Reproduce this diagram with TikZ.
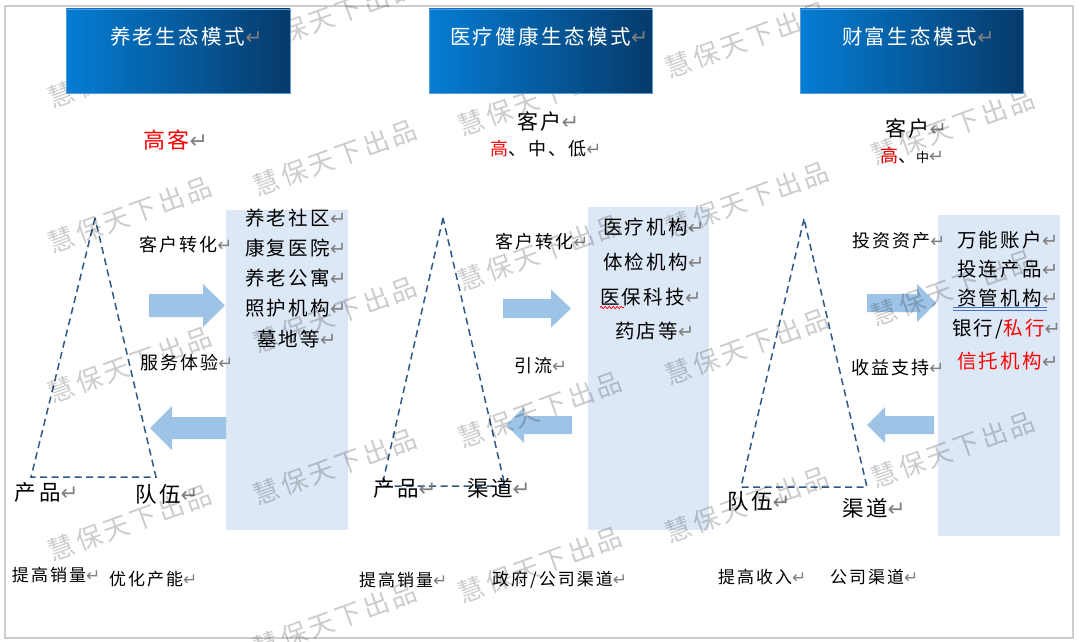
\documentclass[tikz,border=0pt]{standalone}
\usepackage{fontspec}
\setmainfont{Noto Sans CJK SC}[LetterSpace=12]
\newfontfamily\dejavu{DejaVu Sans}
\usetikzlibrary{decorations.pathmorphing}
\definecolor{hdrL}{RGB}{5,125,212}
\definecolor{hdrR}{RGB}{6,58,106}
\definecolor{hdrEdge}{RGB}{91,155,213}
\definecolor{panelc}{RGB}{221,232,246}
\definecolor{arrc}{RGB}{157,195,230}
\definecolor{tric}{RGB}{47,88,135}
\definecolor{rtgray}{RGB}{128,128,128}
\definecolor{framec}{RGB}{205,205,205}
\definecolor{redt}{RGB}{255,0,0}
\definecolor{ulblue}{RGB}{68,114,196}
\newcommand\retmark{{\dejavu\color{rtgray}↵}}
\newcommand\fsz[1]{\fontsize{#1}{#1}\selectfont}
\newcommand\barrow[6]{% tail x, head base x, tip x, centre y, body half, head half
  \fill[arrc] (#1,{#4-#5}) -- (#2,{#4-#5}) -- (#2,{#4-#6}) -- (#3,#4) -- (#2,{#4+#6}) -- (#2,{#4+#5}) -- (#1,{#4+#5}) -- cycle;}
\begin{document}
\begin{tikzpicture}[x=1pt,y=-1pt,
  every node/.style={inner sep=0pt, outer sep=0pt},
  hdr/.style={left color=hdrL, right color=hdrR, draw=hdrEdge, line width=0.6pt},
  ttl/.style={anchor=west, text=white, font=\fsz{20.5}},
  lbl/.style={anchor=west, font=\fsz{18}},
  ptx/.style={anchor=west, font=\fsz{19.5}},
  cor/.style={anchor=west, font=\fsz{21.5}},
  btm/.style={anchor=west, font=\fsz{17}},
  tridash/.style={draw=tric, line width=1.5pt, dash pattern=on 7pt off 4.5pt},
  wm/.style={rotate=20, text=black, opacity=0.2, font=\fsz{26}}
]
\useasboundingbox (0,0) rectangle (1080,642);
\fill[white] (0,0) rectangle (1080,642);
\draw[framec, line width=1.2pt] (5,6) rectangle (1073,638);

% panels
\fill[panelc] (226,210) rectangle (348,530);
\fill[panelc] (588,207) rectangle (709,530);
\fill[panelc] (938,215) rectangle (1060,536);

% block arrows
\barrow{149}{203}{225}{305.5}{11.5}{21.5}
\barrow{226}{172}{150}{428}{11}{22}
\barrow{503}{551}{571}{308.5}{9.5}{19}
\barrow{572}{524}{506}{425}{9}{18}
\barrow{867}{917}{936}{303}{9}{19}
\barrow{934}{885}{867}{425}{9}{18}

% triangles
\coordinate (t1a) at (95,218); \coordinate (t1b) at (31,477); \coordinate (t1c) at (156,477);
\coordinate (t2a) at (443,218); \coordinate (t2b) at (382,486); \coordinate (t2c) at (505,486);
\coordinate (t3a) at (804,219); \coordinate (t3b) at (741,487); \coordinate (t3c) at (867,487);
\draw[tridash] (t1a) -- (t1b) -- (t1c) -- cycle;
\draw[tridash] (t2a) -- (t2b) -- (t2c) -- cycle;
\draw[tridash] (t3a) -- (t3b) -- (t3c) -- cycle;

% customer labels
\node[anchor=west, font=\fsz{22}, text=redt] (gk) at (143,140) {高客\retmark};
\node[anchor=west, font=\fsz{21}] (kh2) at (517,121) {客户\retmark};
\node[anchor=west, font=\fsz{18}] (lv2) at (490,149) {\textcolor{redt}{高}、中、低\retmark};
\node[anchor=west, font=\fsz{21}] (kh3) at (885,128) {客户\retmark};
\node[anchor=west, font=\fsz{18}] (lv3) at (880,156) {\textcolor{redt}{高}、{\fsz{13}中}\retmark};

% column 1
\node[ptx] (p1a) at (245,218) {养老社区\retmark};
\node[ptx] (p1b) at (245,248) {康复医院\retmark};
\node[ptx] (p1c) at (245,278) {养老公寓\retmark};
\node[ptx] (p1d) at (245,308) {照护机构\retmark};
\node[ptx] (p1e) at (257,339) {墓地等\retmark};
\node[lbl] (l1a) at (139,245) {客户转化\retmark};
\node[lbl] (l1b) at (140,363) {服务体验\retmark};
\node[cor] (c1a) at (15,492) {产品\retmark};
\node[cor] (c1b) at (135,494) {队伍\retmark};

% column 2
\node[ptx] (p2a) at (603,227) {医疗机构\retmark};
\node[ptx] (p2b) at (603,262) {体检机构\retmark};
\node[ptx] (p2c) at (600,297) {医保科技\retmark};
\node[ptx] (p2d) at (615,331) {药店等\retmark};
\draw[redt, line width=0.7pt, decorate, decoration={snake, amplitude=1.2pt, segment length=4pt}] (600,307.5) -- (624,307.5);
\node[lbl] (l2a) at (495,242) {客户转化\retmark};
\node[lbl] (l2b) at (514,366) {引流\retmark};
\node[cor] (c2a) at (373,488) {产品\retmark};
\node[cor] (c2b) at (467,488) {渠道\retmark};

% column 3
\node[ptx] (p3a) at (957,240) {万能账户\retmark};
\node[ptx] (p3b) at (957,269) {投连产品\retmark};
\node[ptx] (p3c) at (957,298) {资管机构\retmark};
\node[ptx] (p3d) at (952,329) {银行/\textcolor{redt}{私行}\retmark};
\node[ptx, text=redt] (p3e) at (957,361) {信托机构\retmark};
\draw[ulblue, line width=0.8pt] (953,307.5) -- (1047,307.5);
\draw[ulblue, line width=0.8pt] (953,310.5) -- (1047,310.5);
\node[lbl] (l3a) at (852,241) {投资资产\retmark};
\node[lbl] (l3b) at (851,368) {收益支持\retmark};
\node[cor] (c3a) at (727,501) {队伍\retmark};
\node[cor] (c3b) at (842,508) {渠道\retmark};

% bottom texts
\node[btm] (b1) at (12,575) {提高销量\retmark};
\node[btm] (b2) at (109,579) {优化产能\retmark};
\node[btm] (b3) at (359,580) {提高销量\retmark};
\node[btm] (b4) at (492,580) {政府/公司渠道\retmark};
\node[btm] (b5) at (718,577) {提高收入\retmark};
\node[btm] (b6) at (830,577) {公司渠道\retmark};

% watermarks
\foreach \wx/\wy in {130/70,130/215,130/365,130/523,
  335/15,335/158,335/315,335/467,335/620,
  540/98,540/253,540/410,540/565,
  747/40,747/200,747/347,747/505,
  953/127,953/288,953/450}
  \node[wm] at (\wx,\wy) {慧保天下出品};

% headers
\node[hdr, minimum width=224pt, minimum height=84pt] (h1) at (178,51) {};
\node[hdr, minimum width=223pt, minimum height=84pt] (h2) at (540.5,51) {};
\node[hdr, minimum width=223pt, minimum height=84pt] (h3) at (911.5,51) {};
\node[ttl] (h1t) at (110,37) {养老生态模式\retmark};
\node[ttl] (h2t) at (450,37) {医疗健康生态模式\retmark};
\node[ttl] (h3t) at (842,37) {财富生态模式\retmark};
\end{tikzpicture}
\end{document}
